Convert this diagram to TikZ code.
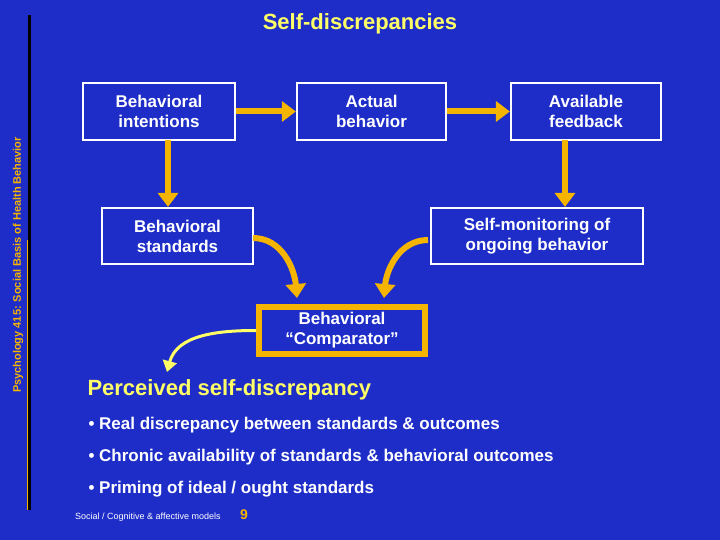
\documentclass[tikz,border=0pt]{standalone}
\usepackage{fontspec}
\setmainfont{Liberation Sans}
\usetikzlibrary{arrows.meta}
\definecolor{bg}{HTML}{1E2DC8}
\definecolor{org}{HTML}{F5B400}
\definecolor{ylw}{HTML}{FFFF66}
\begin{document}
\begin{tikzpicture}[x=1pt,y=-1pt,
  box/.style={draw=white,line width=2.2pt,text=white,font=\bfseries\fontsize{17}{20}\selectfont,align=center,inner sep=0pt},
  arr/.style={org,line width=6pt,-{Triangle[width=20pt,length=14pt]}},
  bul/.style={anchor=west,text=white,font=\bfseries\fontsize{17}{20}\selectfont}]
\fill[bg] (0,0) rectangle (720,540);
\useasboundingbox (0,0) rectangle (720,540);
\draw[black,line width=3pt] (29,15) -- (29,240);
\draw[black,line width=3pt] (29,240) -- (29,510);
\draw[org,line width=1pt] (27,240) -- (27,510);
\node[rotate=90,text=org,font=\bfseries\fontsize{11}{13}\selectfont] (side) at (18,265) {Psychology 415: Social Basis of Health Behavior};
\node[text=ylw,font=\bfseries\fontsize{22}{26}\selectfont] (title) at (360,24) {Self-discrepancies};
\node[box,minimum width=152pt,minimum height=57pt] (bi) at (159,111.5) {Behavioral\\intentions};
\node[box,minimum width=149pt,minimum height=57pt] (ab) at (371.5,111.5) {Actual\\behavior};
\node[box,minimum width=150pt,minimum height=57pt] (af) at (586,111.5) {Available\\feedback};
\node[box,minimum width=151pt,minimum height=56pt] (bs) at (177.5,236) {Behavioral\\standards};
\node[box,minimum width=212pt,minimum height=56pt] (sm) at (537,236) {Self-monitoring of\\ongoing behavior};
\node[box,draw=org,line width=6pt,minimum width=166pt,minimum height=47pt] (bc) at (342,330.5) {Behavioral\\``Comparator''};
\draw[arr] (bi.east) -- (ab.west);
\draw[arr] (ab.east) -- (af.west);
\draw[arr] (168,140) -- (bs.north -| 168,0);
\draw[arr] (565,140) -- (sm.north -| 565,0);
\draw[arr] (253,238) to[out=0,in=95] (297,298);
\draw[arr] (428,240) to[out=180,in=85] (384,298);
\coordinate (pe) at (167,372);
\draw[ylw,line width=3pt,-{Triangle[width=14pt,length=11pt]}] (bc.west) to[out=180,in=75] (pe);
\node[anchor=west,text=ylw,font=\bfseries\fontsize{22}{26}\selectfont] (ps) at (84,390) {Perceived self-discrepancy};
\node[bul] (b1) at (85,425) {• Real discrepancy between standards \& outcomes};
\node[bul] (b2) at (85,457) {• Chronic availability of standards \& behavioral outcomes};
\node[bul] (b3) at (85,489) {• Priming of ideal / ought standards};
\node[anchor=west,text=white,font=\fontsize{9}{11}\selectfont,inner sep=0pt] (ft) at (75,517) {Social / Cognitive \& affective models};
\node[anchor=west,text=org,font=\bfseries\fontsize{14}{16}\selectfont,inner sep=0pt] (pg) at (240,515) {9};
\end{tikzpicture}
\end{document}
